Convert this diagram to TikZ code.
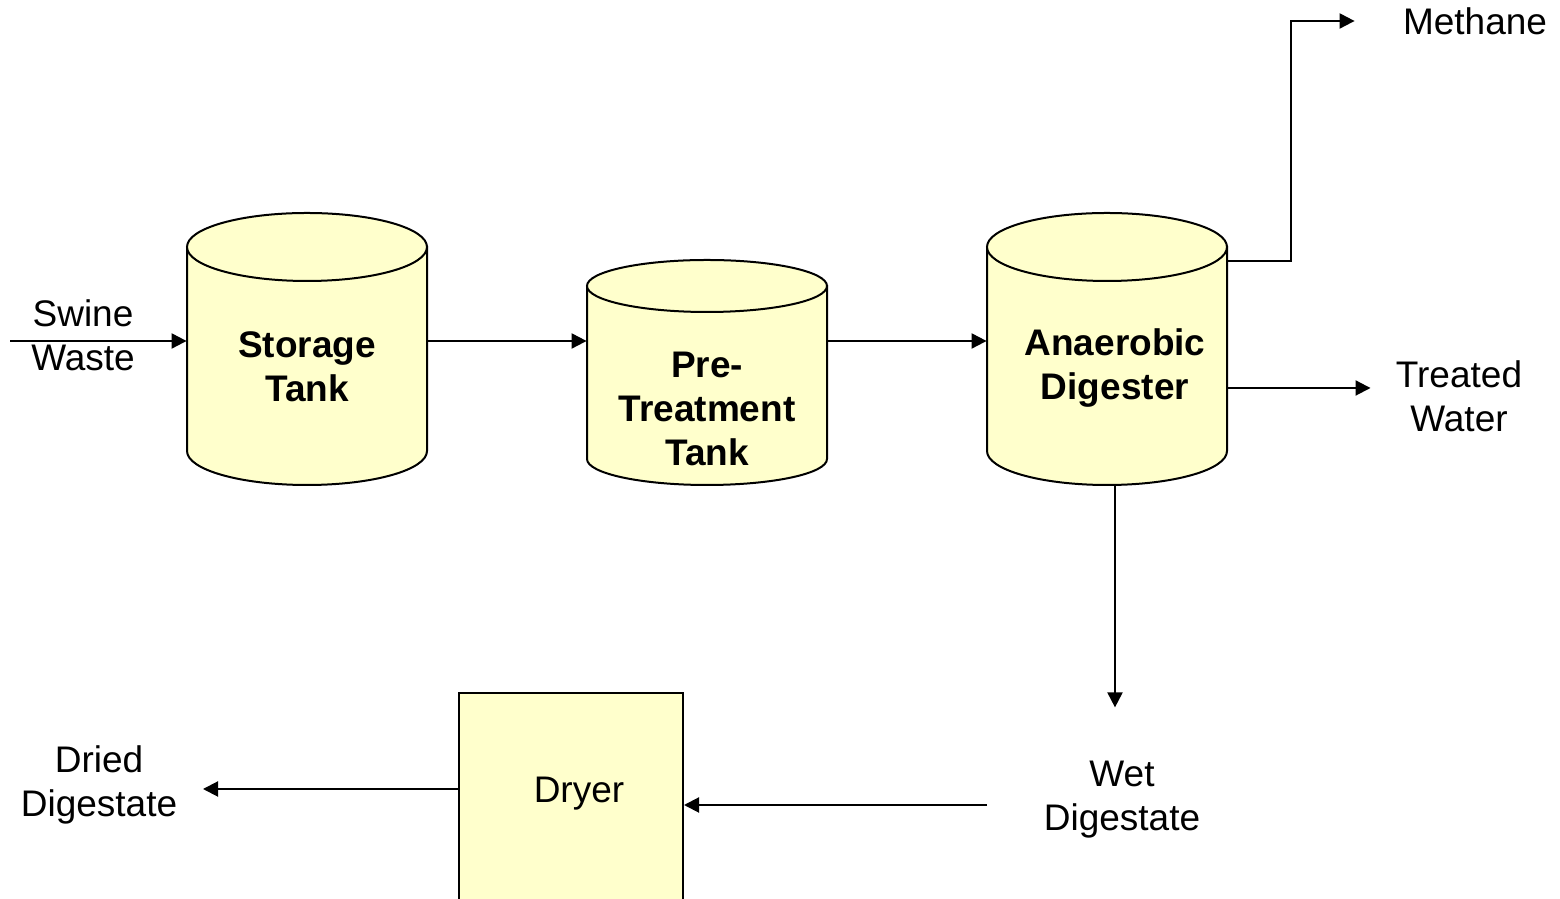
\documentclass[tikz,border=0pt]{standalone}
\usepackage{fontspec}
\setmainfont{Liberation Sans}
\usetikzlibrary{arrows.meta,positioning}
\definecolor{tankfill}{HTML}{FFFFCC}

\begin{document}
\begin{tikzpicture}[x=0.5pt,y=0.5pt,
	flow/.style={-{Triangle[length=7.5pt,width=7.5pt]},line width=1pt},
	vessel/.style={draw,fill=tankfill,line width=1pt},
	tankbody/.style={inner sep=0pt,minimum width=120pt},
	lbl/.style={align=center,inner sep=0pt,font=\fontsize{18.5}{22}\selectfont},
	tanklbl/.style={align=center,inner sep=0pt,font=\fontsize{18.5}{22}\selectfont\bfseries}]
	\clip (0,0) rectangle (1560,899);
	% tanks
	\filldraw[vessel] (187,652) -- (187,448) arc[start angle=180,end angle=360,x radius=120,y radius=34] -- (427,652) -- cycle;
	\filldraw[vessel] (307,652) ellipse[x radius=120,y radius=34];
	\filldraw[vessel] (587,613) -- (587,440) arc[start angle=180,end angle=360,x radius=120,y radius=26] -- (827,613) -- cycle;
	\filldraw[vessel] (707,613) ellipse[x radius=120,y radius=26];
	\filldraw[vessel] (987,652) -- (987,448) arc[start angle=180,end angle=360,x radius=120,y radius=34] -- (1227,652) -- cycle;
	\filldraw[vessel] (1107,652) ellipse[x radius=120,y radius=34];
	\node[tankbody,minimum height=136pt] (storage) at (307,550) {};
	\node[tankbody,minimum height=112pt] (pretreat) at (707,526) {};
	\node[tankbody,minimum height=136pt] (digester) at (1107,550) {};
	\node[tanklbl] (storagetxt) at (307,532) {Storage\\Tank};
	\node[tanklbl] (pretreattxt) at (707,490) {Pre-\\Treatment\\Tank};
	\node[tanklbl] (digestertxt) at (1115,531) {Anaerobic\\Digester};
	% dryer
	\node[vessel,inner sep=0pt,minimum width=112pt,minimum height=110pt] (dryer) at (571,96) {};
	\node[lbl] (dryertxt) at (579,105) {Dryer};
	% streams
	\node[lbl] (swine) at (83,564) {Swine\\Waste};
	\node[lbl] (methane) at (1475,878) {Methane};
	\node[lbl] (water) at (1459,503) {Treated\\Water};
	\node[lbl] (wet) at (1122,99) {Wet\\Digestate};
	\node[lbl] (dried) at (99,114) {Dried\\Digestate};
	\coordinate (feed) at (10,558);
	\coordinate (wetout) at (987,94);
	\draw[flow] (feed) -- (feed -| storage.west);
	\draw[flow] (storage.east |- feed) -- (feed -| pretreat.west);
	\draw[flow] (pretreat.east |- feed) -- (feed -| digester.west);
	\draw[flow] (digester.east |- 0,638) -| (1291,878) -- ([xshift=-24pt]methane.west);
	\draw[flow] (digester.east |- 0,511) -- ([xshift=-12.5pt]water.west |- 0,511);
	\draw[flow] ([xshift=4pt]digester.south) -- ++(0,-222);
	\draw[flow] (wetout) -- (wetout -| dryer.east);
	\draw[flow] (dryer.west |- 0,110) -- (203,110);
\end{tikzpicture}
\end{document}
